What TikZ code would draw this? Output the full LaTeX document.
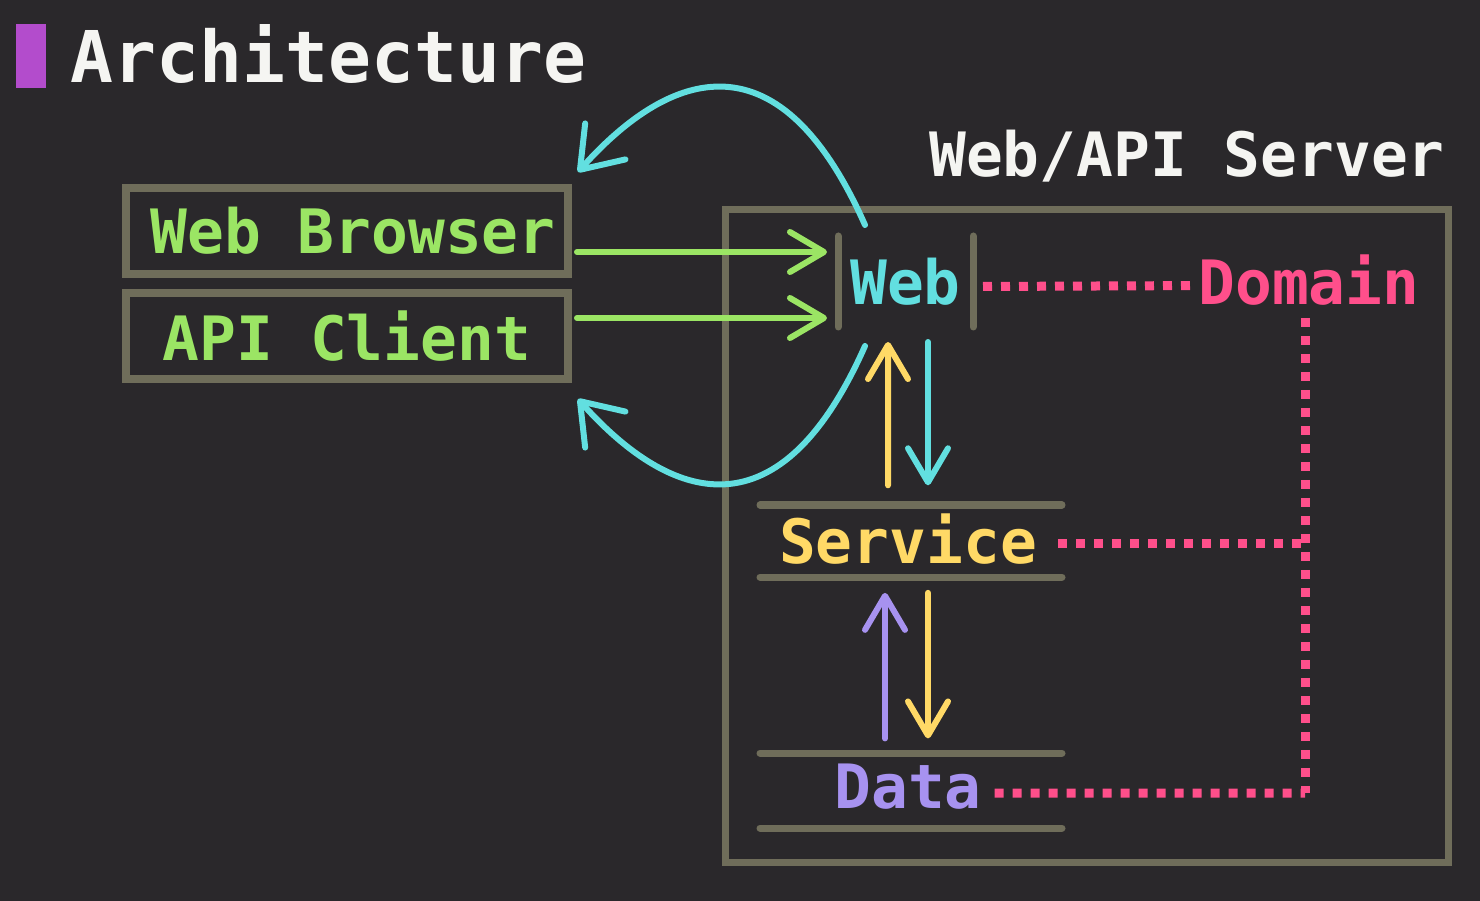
\documentclass[tikz,border=0pt]{standalone}
\usepackage{fontspec}
\setmonofont{DejaVu Sans Mono}
\usetikzlibrary{arrows.meta,calc}
\definecolor{bg}{HTML}{2A282B}
\definecolor{framegrey}{HTML}{6F6D5A}
\definecolor{titlemark}{HTML}{B34CCC}
\definecolor{titlewhite}{HTML}{F5F5F2}
\definecolor{clientgreen}{HTML}{9BE564}
\definecolor{webcyan}{HTML}{62DFE0}
\definecolor{serviceyellow}{HTML}{FFD966}
\definecolor{datapurple}{HTML}{A792F0}
\definecolor{domainpink}{HTML}{FF4F8B}
\begin{document}
\begin{tikzpicture}[every node/.style={font=\ttfamily\bfseries\fontsize{17.4pt}{20pt}\selectfont, inner sep=0pt, outer sep=0pt},
    frame/.style={draw=framegrey, line width=0.08cm},
    flow/.style={line width=0.06cm, line cap=round, -{Straight Barb[length=0.34cm,width=0.4cm,round]}},
    backflow/.style={flow, -{Straight Barb[length=0.38cm,width=0.54cm,round]}},
    link/.style={draw=domainpink, line width=0.09cm, dash pattern=on 0.09cm off 0.09cm},
    layer/.style={draw=framegrey, line width=0.07cm, line cap=round}]
    \path[use as bounding box, fill=bg] (0,0) rectangle (14.8,-9.01);
    \node[fill=titlemark, minimum width=0.3cm, minimum height=0.64cm] (mark) at (0.31,-0.56) {};
    \node[anchor=base west, text=titlewhite, font=\ttfamily\bfseries\fontsize{20.3pt}{24pt}\selectfont] (title) at (0.71,-0.83) {Architecture};
    \node[frame, text=clientgreen, minimum width=4.42cm, minimum height=0.86cm] (browser) at (3.47,-2.31) {\hspace{0.12cm}Web Browser};
    \node[frame, text=clientgreen, minimum width=4.42cm, minimum height=0.86cm] (client) at (3.47,-3.36) {API Client};
    \node[anchor=base, text=titlewhite] (serverlabel) at (11.87,-1.77) {Web/API Server};
    \node[draw=framegrey, line width=0.07cm, minimum width=7.23cm, minimum height=6.53cm] (server) at (10.87,-5.36) {};
    \node[text=webcyan, minimum width=1.35cm, minimum height=0.91cm] (web) at (9.055,-2.815) {Web};
    \node[anchor=base, text=domainpink] (domain) at (13.09,-3.05) {Domain};
    \node[anchor=base, text=serviceyellow] (service) at (9.08,-5.63) {Service};
    \node[anchor=base, text=datapurple] (data) at (9.08,-8.08) {Data};
    \coordinate (dtop) at (13.05,-3.18);
    \coordinate (dcorner) at (13.05,-7.93);
    \coordinate (backtop) at (5.78,-1.72);
    \coordinate (backbot) at (5.78,-3.99);
    \draw[layer] (web.north west) -- (web.south west);
    \draw[layer] (web.north east) -- (web.south east);
    \foreach \y in {5.05,5.77,7.53,8.28}
        \draw[layer] (7.6,-\y) -- (10.62,-\y);
    \draw[flow, clientgreen] ($(browser.east)+(0.09,-0.21)$) -- ($(browser.east -| web.west)+(-0.11,-0.21)$);
    \draw[flow, clientgreen] ($(client.east)+(0.09,0.18)$) -- ($(client.east -| web.west)+(-0.11,0.18)$);
    \draw[backflow, webcyan] ($(web.north west)+(0.27,0.11)$) .. controls +(-0.893,2.015) and +(0.853,0.955) .. (backtop);
    \draw[backflow, webcyan] ($(web.south west)+(0.27,-0.19)$) .. controls +(-0.893,-2.015) and +(0.853,-0.955) .. (backbot);
    \draw[flow, serviceyellow] ($(service.north)+(-0.2,0.28)$) -- ($(web.south)+(-0.175,-0.15)$);
    \draw[flow, webcyan] ($(web.south)+(0.225,-0.15)$) -- ($(service.north)+(0.2,0.28)$);
    \draw[flow, datapurple] ($(data.north)+(-0.23,0.25)$) -- ($(service.south)+(-0.23,-0.29)$);
    \draw[flow, serviceyellow] ($(service.south)+(0.2,-0.29)$) -- ($(data.north)+(0.2,0.25)$);
    \draw[link] ($(web.east)+(0.1,-0.05)$) -- ($(domain.west)+(-0.05,-0.05)$);
    \draw[link] (dtop) -- (dcorner);
    \draw[link] ($(service.east)+(0.21,-0.05)$) -- ($(service.east -| dcorner)+(0,-0.05)$);
    \draw[link] ($(data.east)+(0.13,-0.07)$) -- (dcorner);
\end{tikzpicture}
\end{document}
